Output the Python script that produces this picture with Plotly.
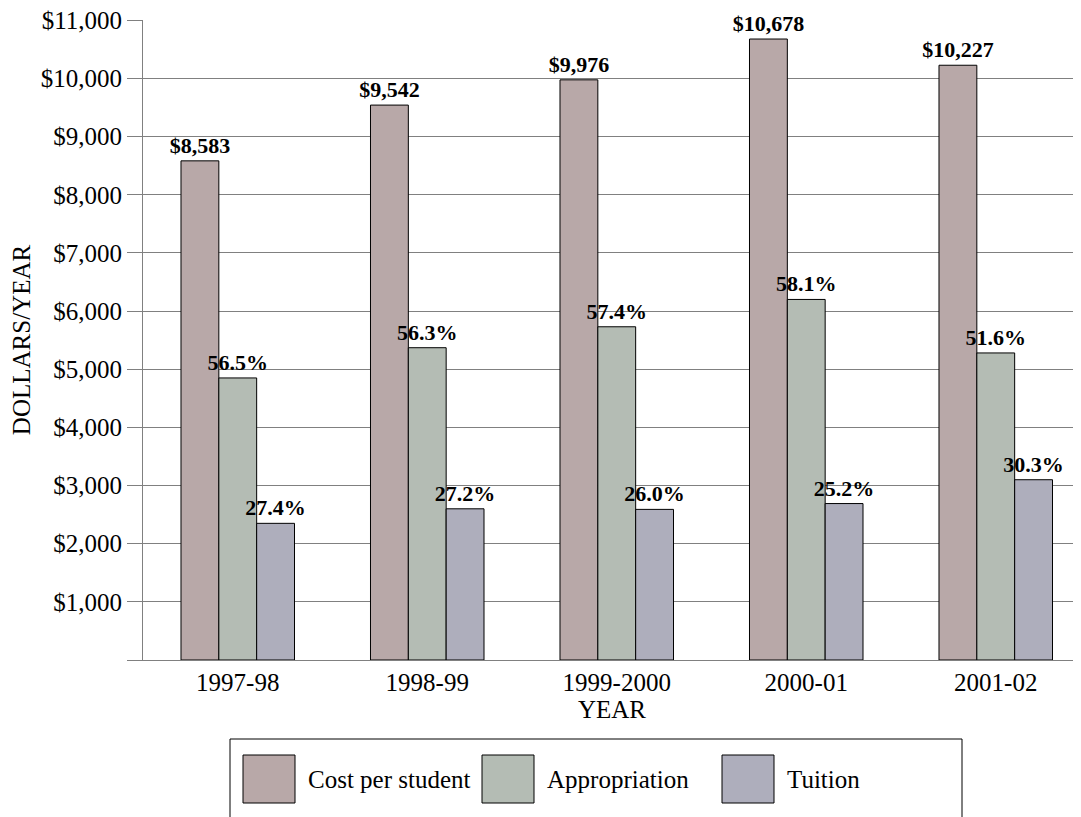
import plotly.graph_objects as go

years = ["1997-98", "1998-99", "1999-2000", "2000-01", "2001-02"]
series_names = ["Cost per student", "Appropriation", "Tuition"]
cost = [8583, 9542, 9976, 10678, 10227]
appropriation = [4850, 5370, 5730, 6200, 5280]
tuition = [2350, 2600, 2590, 2690, 3100]
appropriation_pct = [56.5, 56.3, 57.4, 58.1, 51.6]
tuition_pct = [27.4, 27.2, 26.0, 25.2, 30.3]
y_ticks = list(range(0, 12000, 1000))

colors = ["#b8a8a8", "#b4bcb4", "#aeaebc"]
FONT = "Liberation Serif, Times New Roman, serif"
FS = 25
LFS = 22

# page layout (page has an 8px body margin)
OFF = 8
PL, PT, PR, PB = 143, 20, 1081, 660  # plot area in page pixels
CAT_W = 189.5                         # category spacing in page pixels
W, H = 1081 - OFF, 817 - OFF
PW, PH = PR - PL, PB - PT

def px(x):
    return (x - PL) / PW

def py(y):
    return (PB - y) / PH

cost_text = [f"<b>${v:,}</b>" for v in cost]
app_text = [f"<b>{p:.1f}%</b>" for p in appropriation_pct]
tui_text = [f"<b>{p:.1f}%</b>" for p in tuition_pct]

fig = go.Figure()
for name, vals, txt, col in zip(series_names, [cost, appropriation, tuition],
                                [cost_text, app_text, tui_text], colors):
    fig.add_trace(go.Bar(
        x=years, y=vals, name=name, text=txt, textposition="outside",
        constraintext="none",
        textfont=dict(family=FONT, size=LFS, color="black"),
        marker=dict(color=col, line=dict(color="black", width=1)),
        cliponaxis=False, showlegend=False,
    ))

fig.update_layout(
    width=W, height=H,
    margin=dict(l=PL - OFF, r=W - (PR - OFF), t=PT - OFF, b=H - (PB - OFF), pad=0),
    paper_bgcolor="white", plot_bgcolor="white",
    barmode="group", bargap=0.401, bargroupgap=0,
    font=dict(family=FONT, size=FS, color="black"),
    uniformtext=dict(mode=False),
)
fig.update_yaxes(
    range=[0, 11005], tickvals=y_ticks,
    ticktext=["" if v == 0 else f"${v:,}" for v in y_ticks],
    showgrid=True, gridcolor="#808080", gridwidth=1,
    ticks="outside", ticklen=15, tickcolor="#808080",
    showline=True, linecolor="#808080", linewidth=1,
    zeroline=False, automargin=False, ticklabeloverflow="allow",
    tickfont=dict(family=FONT, size=FS),
    title=dict(text="DOLLARS/YEAR", font=dict(family=FONT, size=FS), standoff=10),
)
fig.update_xaxes(
    type="category", range=[-0.5, -0.5 + PW / CAT_W],
    showline=True, linecolor="#808080", linewidth=1, ticks="",
    automargin=False,
    tickfont=dict(family=FONT, size=FS),
    title=dict(text="YEAR", font=dict(family=FONT, size=FS), standoff=4),
)

# custom legend box with large swatches
fig.add_shape(type="rect", xref="paper", yref="paper",
              x0=px(230), x1=px(962), y0=py(840), y1=py(739),
              line=dict(color="black", width=1), fillcolor="rgba(0,0,0,0)")
sw_x = [243, 482, 722]
for name, col, sx in zip(series_names, colors, sw_x):
    fig.add_shape(type="rect", xref="paper", yref="paper",
                  x0=px(sx), x1=px(sx + 52), y0=py(803), y1=py(755),
                  line=dict(color="black", width=1), fillcolor=col)
    fig.add_annotation(xref="paper", yref="paper",
                       x=px(sx + 63), y=py(779),
                       text=name, showarrow=False, xanchor="left", yanchor="middle",
                       font=dict(family=FONT, size=FS, color="black"))

fig.write_html("out.html")
